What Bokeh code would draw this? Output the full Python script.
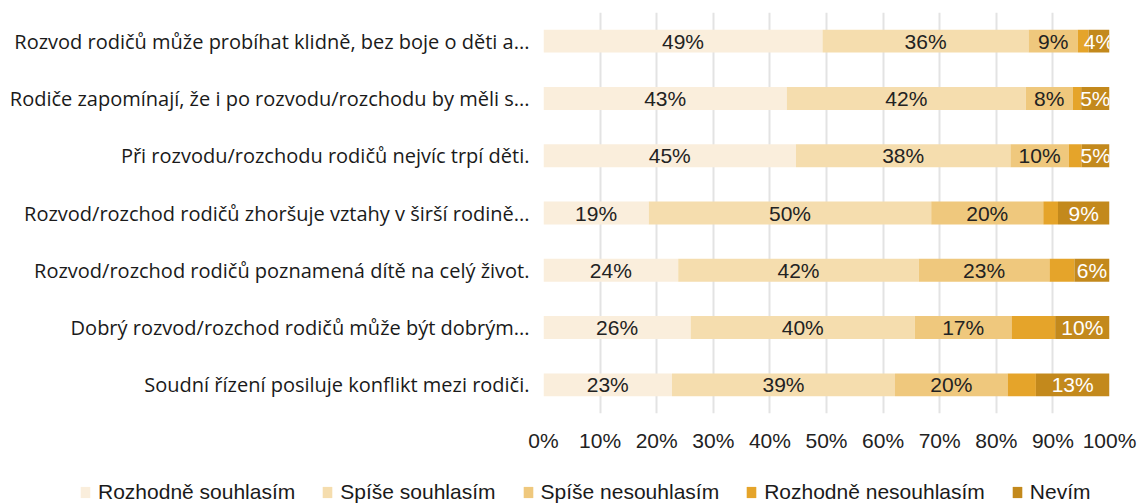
from bokeh.plotting import figure
from bokeh.models import ColumnDataSource, FixedTicker, PrintfTickFormatter, Legend, LegendItem, FactorRange, Range1d
from bokeh.layouts import column
from bokeh.core.properties import value
from bokeh.embed import file_html
from bokeh.resources import INLINE

statements = [
    "Rozvod rodičů může probíhat klidně, bez boje o děti a...",
    "Rodiče zapomínají, že i po rozvodu/rozchodu by měli s...",
    "Při rozvodu/rozchodu rodičů nejvíc trpí děti.",
    "Rozvod/rozchod rodičů zhoršuje vztahy v širší rodině...",
    "Rozvod/rozchod rodičů poznamená dítě na celý život.",
    "Dobrý rozvod/rozchod rodičů může být dobrým...",
    "Soudní řízení posiluje konflikt mezi rodiči.",
]
series_names = ["Rozhodně souhlasím", "Spíše souhlasím", "Spíše nesouhlasím",
                "Rozhodně nesouhlasím", "Nevím"]
rozhodne_souhlasim = [49.3, 43.0, 44.6, 18.6, 23.8, 26.0, 22.7]
spise_souhlasim = [36.4, 42.2, 37.9, 49.9, 42.5, 39.6, 39.4]
spise_nesouhlasim = [8.7, 8.3, 10.3, 19.8, 23.1, 17.1, 19.9]
rozhodne_nesouhlasim = [1.9, 1.5, 2.3, 2.6, 4.4, 7.7, 5.0]
nevim = [3.7, 5.0, 4.9, 9.1, 6.2, 9.6, 13.0]
x_ticks = [0, 10, 20, 30, 40, 50, 60, 70, 80, 90, 100]

colors = ["#FAEEDC", "#F5DDAE", "#EFC87D", "#E5A42A", "#C3891C"]
label_colors = ["#222222", "#222222", "#222222", None, "#FFFFFF"]

series = [rozhodne_souhlasim, spise_souhlasim, spise_nesouhlasim, rozhodne_nesouhlasim, nevim]
keys = ["s0", "s1", "s2", "s3", "s4"]

data = {"cat": statements}
for k, s in zip(keys, series):
    data[k] = s
source = ColumnDataSource(data)

LABEL_FONT = "Liberation Sans"

p = figure(width=1138, height=470, output_backend="svg", toolbar_location=None,
           y_range=FactorRange(factors=list(reversed(statements)), range_padding=0),
           x_range=Range1d(0, 100),
           min_border_left=543, min_border_right=29, min_border_top=12, min_border_bottom=57)
p.outline_line_color = None
p.frame_align = False

renderers = p.hbar_stack(keys, y="cat", height=0.40, color=colors, source=source, line_color=None)

# labels
for i, (s, lc) in enumerate(zip(series, label_colors)):
    if lc is None:
        continue
    left = [sum(series[j][r] for j in range(i)) for r in range(len(statements))]
    centers = [l + v / 2 for l, v in zip(left, s)]
    texts = [f"{round(v)}%" for v in s]
    src = ColumnDataSource(dict(x=centers, y=statements, t=texts))
    p.text(x="x", y="y", text="t", source=src, text_align="center", text_baseline="middle",
           text_font=value(LABEL_FONT), text_font_size="21px", text_color=lc)

# grid
p.ygrid.grid_line_color = None
p.xgrid.grid_line_color = "#E3E3E3"
p.xgrid.grid_line_width = 2
p.xgrid.ticker = FixedTicker(ticks=x_ticks)

# axes
p.xaxis.ticker = FixedTicker(ticks=x_ticks)
p.xaxis.formatter = PrintfTickFormatter(format="%d%%")
p.xaxis.axis_line_color = None
p.xaxis.major_tick_line_color = None
p.xaxis.minor_tick_line_color = None
p.xaxis.major_label_text_font = LABEL_FONT
p.xaxis.major_label_text_font_size = "21px"
p.xaxis.major_label_text_color = "#222222"
p.xaxis.major_label_standoff = 9

p.yaxis.axis_line_color = None
p.yaxis.major_tick_line_color = None
p.yaxis.minor_tick_line_color = None
p.yaxis.major_label_text_font = "Open Sans"
p.yaxis.major_label_text_font_size = "20px"
p.yaxis.major_label_text_color = "#1A1A1A"
p.yaxis.major_label_standoff = 8

# legend in its own strip
lg = figure(width=1138, height=34, output_backend="svg", toolbar_location=None,
            x_range=Range1d(0, 1), y_range=Range1d(0, 1),
            x_axis_type=None, y_axis_type=None,
            min_border_left=0, min_border_right=0, min_border_top=0, min_border_bottom=0)
lg.outline_line_color = None
lg.frame_align = False
lg.xgrid.grid_line_color = None
lg.ygrid.grid_line_color = None
offscreen = ColumnDataSource(dict(x=[10], y=[10]))
dummies = [lg.rect(x="x", y="y", width=0.01, height=0.01, source=offscreen,
                   fill_color=c, line_color=None) for c in colors]
items = [LegendItem(label=n, renderers=[r]) for n, r in zip(series_names, dummies)]
legend = Legend(items=items, orientation="horizontal", location=(79, 0),
                glyph_width=12, glyph_height=14, label_standoff=7, spacing=26,
                padding=0, margin=0, border_line_color=None, background_fill_alpha=0,
                label_text_font=LABEL_FONT, label_text_font_size="21px",
                label_text_color="#1A1A1A")
lg.add_layout(legend, "center")

open("out.html", "w").write(file_html(column(p, lg), INLINE))
